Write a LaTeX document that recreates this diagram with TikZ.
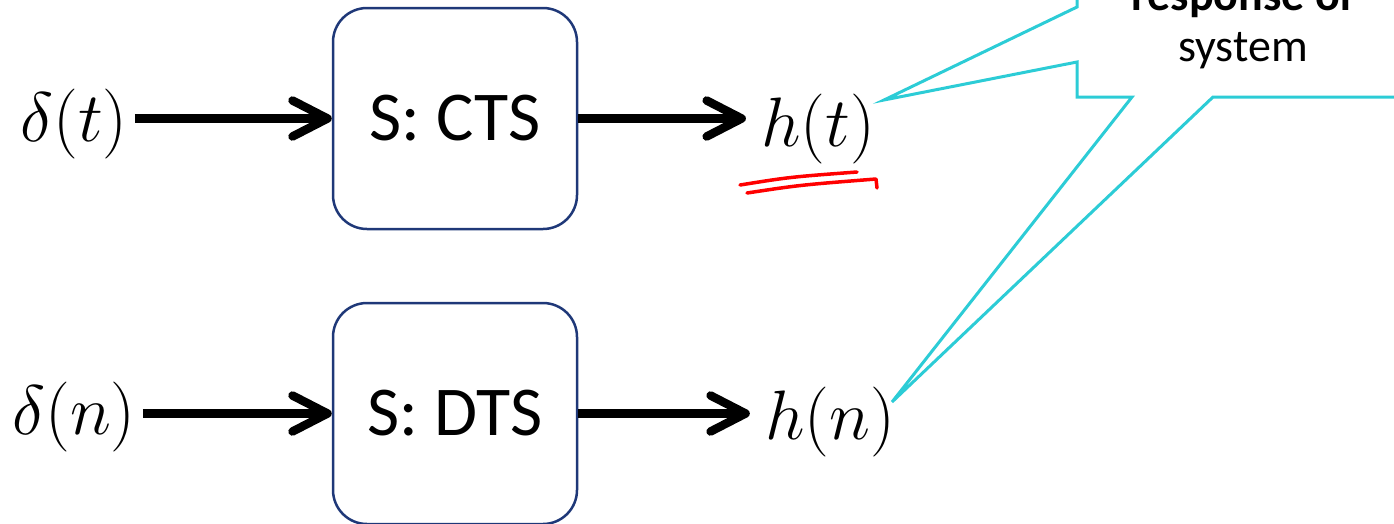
\RequirePackage{fix-cm}
\documentclass[tikz,border=0pt]{standalone}
\usepackage{fontspec}
\newfontfamily\calib{Carlito}
\usetikzlibrary{arrows.meta,positioning}

\definecolor{boxline}{RGB}{31,56,120}
\definecolor{callcyan}{RGB}{44,204,214}

\begin{document}
\begin{tikzpicture}[x=1pt,y=-1pt]
		\tikzstyle {system} = [draw=boxline, line width=2.5pt, rounded corners=34pt, minimum width=244pt, minimum height=221pt, inner sep=0pt, font=\calib\fontsize{70}{80}\selectfont]
		\tikzstyle {signal} = [inner sep=7pt, font=\fontsize{70}{80}\selectfont]
		\tikzstyle {flow} = [line width=8.5pt, -{Straight Barb[length=35pt, width=36pt, round]}]
		\tikzstyle {scribble} = [red, line width=3.5pt, line cap=round, line join=round]

		\useasboundingbox (0,0) rectangle (1394,523);
		\clip (0,0) rectangle (1394,523);

		\node[system] (cts) at (455,118.5) {S: CTS};
		\node[system] (dts) at (455,413.5) {S: DTS};

		\node[signal] (dt) at (74,124) {$\delta(t)$};
		\node[signal] (ht) at (818,128.5) {$h(t)$};
		\node[signal] (dn) at (74,416.5) {$\delta(n)$};
		\node[signal] (hn) at (830,422) {$h(n)$};

		\draw[flow] (dt.east |- cts.west) -- (cts.west);
		\draw[flow, shorten >=8pt] (cts.east) -- (ht.west |- cts.east);
		\draw[flow] (dn.east |- dts.west) -- (dts.west);
		\draw[flow, shorten >=8pt] (dts.east) -- (hn.west |- dts.east);

		% hand-drawn underline under h(t)
		\draw[scribble] (740,185) .. controls (790,177) .. (857,172);
		\draw[scribble] (747,193) .. controls (800,185) .. (876,179) -- (877,188);

		% callout with two pointers
		\draw[callcyan, line width=3pt, fill=white] (1077,-10) -- (1077,7) -- (884,100) -- (1077,62) -- (1077,97) -- (1132,97) -- (892,402) -- (1213,97) -- (1404,97) -- (1404,-10) -- cycle;
		\node[anchor=base, font=\calib\bfseries\fontsize{46}{51}\selectfont] (resp) at (1243,10) {response of};
		\node[anchor=base, font=\calib\fontsize{46}{51}\selectfont] (sys) at (1243,61) {system};
	\end{tikzpicture}
\end{document}
